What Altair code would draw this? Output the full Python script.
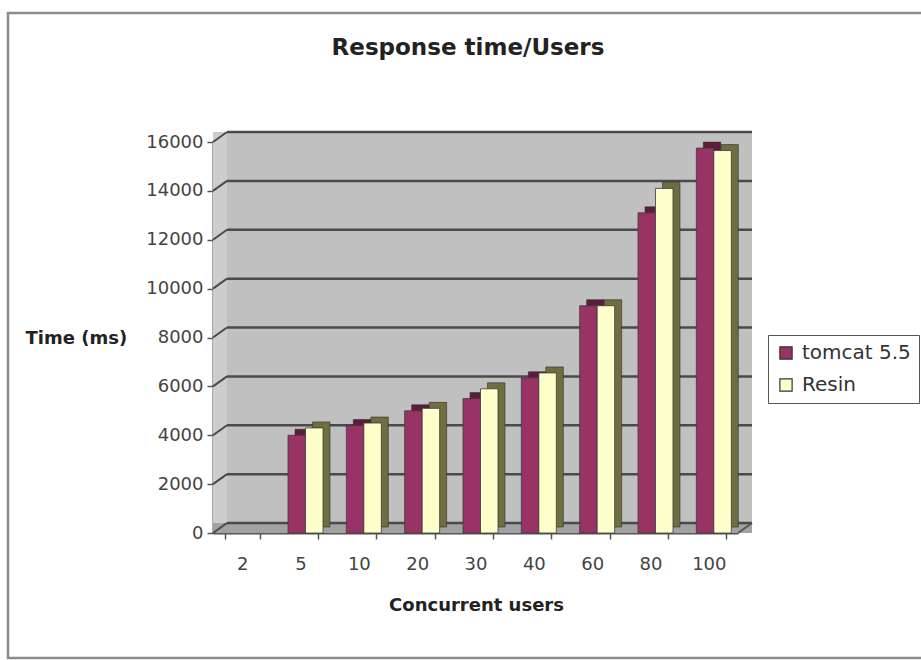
import altair as alt
import pandas as pd

# Response time (ms) per number of concurrent users
users = ["2", "5", "10", "20", "30", "40", "60", "80", "100"]
tomcat_ms = [0, 4000, 4400, 5000, 5500, 6350, 9300, 13100, 15750]
resin_ms = [0, 4300, 4500, 5100, 5900, 6550, 9300, 14100, 15650]
series = ["tomcat 5.5", "Resin"]
y_ticks = [0, 2000, 4000, 6000, 8000, 10000, 12000, 14000, 16000]

front_colors = ["#993366", "#ffffcc"]
side_tomcat = "#5c1c3d"
side_resin = "#6e6e40"

W, H = 525, 391          # front plane of the plot
DX, DY = 14, -10         # depth shift of the back wall
BAR_GROUP = 35           # width of a pair of columns
FONT = "DejaVu Sans"

rows = []
for u, t, r in zip(users, tomcat_ms, resin_ms):
    rows.append({"users": u, "server": series[0], "ms": t})
    rows.append({"users": u, "server": series[1], "ms": r})
bars_df = pd.DataFrame(rows)
ticks_df = pd.DataFrame({"ms": y_ticks})
one = pd.DataFrame({"t": ["Response time/Users"]})

y_enc = alt.Y(
    "ms:Q",
    scale=alt.Scale(domain=[0, 16000], nice=False),
    axis=alt.Axis(
        values=y_ticks, format="d", grid=False, title="Time (ms)", titleAngle=0,
        titleX=-188, titleY=196, titleAlign="left", titleBaseline="middle",
        titleFont=FONT, titleFontSize=18, titleFontWeight="bold", titleColor="#222",
        labelFont=FONT, labelFontSize=18, labelColor="#444", labelPadding=4,
        tickSize=6, tickColor="#555", tickWidth=1.5,
        domainColor="#555", domainWidth=2,
    ),
)
x_enc = alt.X(
    "users:N", sort=users,
    scale=alt.Scale(domain=users, paddingInner=0.4, paddingOuter=0.2),
    axis=alt.Axis(
        title="Concurrent users", titleX=263, titleY=72, titleBaseline="middle",
        titleFont=FONT, titleFontSize=18, titleFontWeight="bold", titleColor="#222",
        labelFont=FONT, labelFontSize=18, labelColor="#444", labelPadding=16,
        labelAngle=0, tickBand="extent", tickSize=6, tickColor="#555", tickWidth=1.5,
        domainColor="#555", domainWidth=2,
    ),
)

# chart-area frame
frame = alt.Chart(one).mark_rect(fillOpacity=0, stroke="#8c8c8c", strokeWidth=2.5).encode(
    x=alt.value(-205), x2=alt.value(W + 200), y=alt.value(-129), y2=alt.value(H + 125)
)

# 3-D box: side wall, back wall, floor
side_wall = alt.Chart(one).mark_rect(fill="#cdcdcd").encode(
    x=alt.value(0), x2=alt.value(DX), y=alt.value(DY), y2=alt.value(H)
)
back_wall = alt.Chart(one).mark_rect(fill="#c0c0c0").encode(
    x=alt.value(DX), x2=alt.value(W + DX), y=alt.value(DY), y2=alt.value(H + DY)
)
floor = alt.Chart(one).mark_rect(fill="#a2a2a2").encode(
    x=alt.value(0), x2=alt.value(W + DX), y=alt.value(H + DY), y2=alt.value(H)
)
floor_edge = alt.Chart(one).mark_rule(color="#555", strokeWidth=2).encode(
    x=alt.value(W), x2=alt.value(W + DX), y=alt.value(H), y2=alt.value(H + DY)
)

grid = alt.Chart(ticks_df).mark_rule(color="#4a4a4a", strokeWidth=2.5, yOffset=DY).encode(
    y=y_enc, x=alt.value(DX), x2=alt.value(W + DX)
)
connectors = alt.Chart(ticks_df).mark_rule(color="#4a4a4a", strokeWidth=2, y2Offset=DY).encode(
    y=y_enc, y2="ms:Q", x=alt.value(0), x2=alt.value(DX)
)

# column depth (side and top faces), shifted right and up
bars_side = alt.Chart(bars_df).transform_filter("datum.ms > 0").mark_bar(
    yOffset=-6, y2Offset=-6, stroke="#2f2f2f", strokeWidth=0.6
).encode(
    x=x_enc,
    xOffset=alt.XOffset("server:N", sort=series,
                        scale=alt.Scale(domain=series, range=[12, 12 + BAR_GROUP])),
    y=y_enc,
    fill=alt.condition("datum.server == 'Resin'", alt.value(side_resin), alt.value(side_tomcat)),
)

bars_front = alt.Chart(bars_df).transform_filter("datum.ms > 0").mark_bar(
    stroke="#3a3a3a", strokeWidth=0.8
).encode(
    x=x_enc,
    xOffset=alt.XOffset("server:N", sort=series,
                        scale=alt.Scale(domain=series, range=[5, 5 + BAR_GROUP])),
    y=y_enc,
    color=alt.Color(
        "server:N", sort=series,
        scale=alt.Scale(domain=series, range=front_colors),
        legend=alt.Legend(
            title=None, orient="none", legendX=555, legendY=193, direction="vertical",
            symbolType="square", symbolSize=150, symbolStrokeColor="#333",
            symbolStrokeWidth=1.2, labelFont=FONT, labelFontSize=20, labelColor="#333",
            fillColor="white", strokeColor="#555", padding=8, rowPadding=12, labelOffset=6,
        ),
    ),
)

title = alt.Chart(one).mark_text(
    font=FONT, fontWeight="bold", fontSize=23, align="center", baseline="alphabetic", color="#222"
).encode(x=alt.value(255), y=alt.value(-87), text="t:N")

chart = alt.layer(
    frame, side_wall, back_wall, floor, grid, connectors, floor_edge,
    bars_side, bars_front, title,
).resolve_scale(
    xOffset="independent"
).properties(
    width=W, height=H,
    autosize=alt.AutoSizeParams(type="none"),
    padding={"left": 213, "top": 142, "right": 183, "bottom": 127},
    background="white",
).configure_view(stroke=None)

chart.save("out.html", embed_options={"renderer": "svg", "actions": False})
